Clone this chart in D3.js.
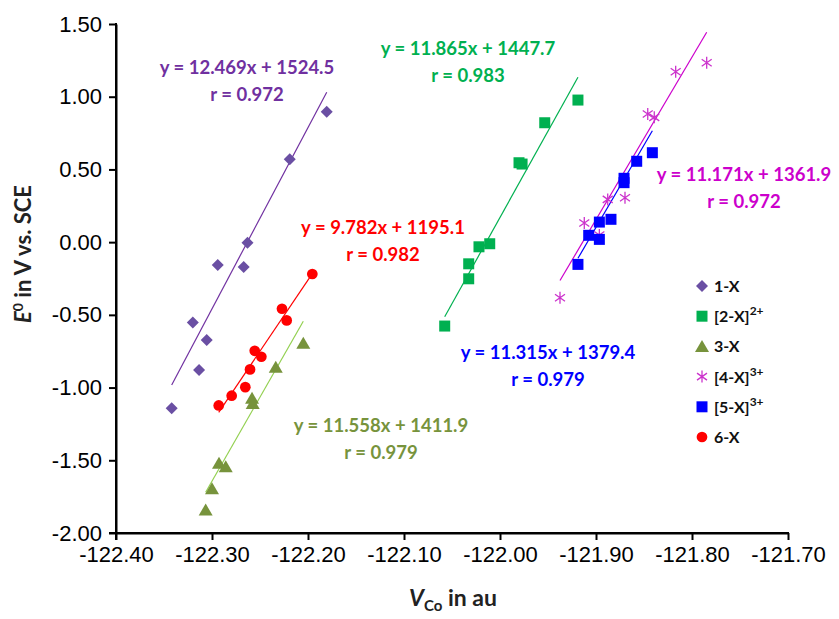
<!DOCTYPE html>
<html>
<head>
<meta charset="utf-8">
<script src="https://cdn.jsdelivr.net/npm/d3@7"></script>
<style>
  html, body { margin: 0; padding: 0; background: #fff; }
  svg { display: block; }
</style>
</head>
<body>
<svg id="chart" width="839" height="619"></svg>
<script>
// Series names as shown in the legend (base text + superscript charge)
const seriesBase = ["1-X", "[2-X]", "3-X", "[4-X]", "[5-X]", "6-X"];
const seriesCharge = ["", "2+", "", "3+", "3+", ""];

// V_Co (au) and E0 (V vs. SCE) for each series
const x1 = [-122.342, -122.3135, -122.3055, -122.320, -122.294, -122.267, -122.263, -122.219, -122.1805];
const y1 = [-1.143, -0.880, -0.673, -0.552, -0.157, -0.171, -0.004, 0.570, 0.897];

const x2 = [-122.0576, -122.0326, -122.0326, -122.0219, -122.0107, -121.9802, -121.9770, -121.9534, -121.9188];
const y2 = [-0.577, -0.252, -0.149, -0.032, -0.011, 0.546, 0.537, 0.821, 0.977];

const x3 = [-122.3066, -122.3000, -122.2927, -122.2857, -122.2583, -122.2576, -122.2336, -122.2049];
const y3 = [-1.842, -1.696, -1.521, -1.545, -1.074, -1.109, -0.861, -0.696];

const x4 = [-121.9375, -121.9122, -121.8965, -121.8878, -121.8698, -121.8461, -121.8393, -121.8170, -121.7847];
const y4 = [-0.382, 0.131, 0.049, 0.294, 0.305, 0.881, 0.858, 1.172, 1.234];

const x5 = [-121.9188, -121.9076, -121.8965, -121.8965, -121.8844, -121.8708, -121.8708, -121.8576, -121.8413];
const y5 = [-0.153, 0.047, 0.019, 0.138, 0.157, 0.409, 0.439, 0.556, 0.615];

const x6 = [-122.2930, -122.2795, -122.2653, -122.2604, -122.2555, -122.2486, -122.2271, -122.2222, -122.1955];
const y6 = [-1.123, -1.056, -0.997, -0.875, -0.747, -0.788, -0.458, -0.538, -0.219];

// Linear fits y = a x + b and correlation coefficients
const fitSlope = [12.469, 11.865, 11.558, 11.171, 11.315, 9.782];
const fitIntercept = [1524.5, 1447.7, 1411.9, 1361.9, 1379.4, 1195.1];
const fitR = ["0.972", "0.983", "0.979", "0.972", "0.979", "0.982"];

// Axis ticks
const xTicks = [-122.40, -122.30, -122.20, -122.10, -122.00, -121.90, -121.80, -121.70];
const yTicks = [-2.00, -1.50, -1.00, -0.50, 0.00, 0.50, 1.00, 1.50];

// ---- styling / layout ----
const xsData = [x1, x2, x3, x4, x5, x6];
const ysData = [y1, y2, y3, y4, y5, y6];
const markerColor = ["#6A4FA3", "#00B050", "#77933C", "#CC33CC", "#0000FF", "#FF0000"];
const lineColor   = ["#7030A0", "#00B050", "#92D050", "#CC00CC", "#0000FF", "#FF0000"];
const textColor   = ["#7030A0", "#00B050", "#77933C", "#CC00CC", "#0000FF", "#FF0000"];
const markerKind  = ["diamond", "square", "triangle", "asterisk", "square", "circle"];
// pixel centres of the two-line fit labels
const labelPos = [[247, 67], [468, 48], [381, 425], [744, 174], [548, 352], [383, 227]];

const svg = d3.select("#chart");
const x = d3.scaleLinear().domain([-122.40, -121.70]).range([116, 788]);
const y = d3.scaleLinear().domain([-2.00, 1.50]).range([533, 24]);

const tickFont = "'Liberation Sans', Arial, sans-serif";
const boldFont = "Lato, 'Open Sans', sans-serif";

// axes
const fmt = d => d.toFixed(2);
const xAxis = svg.append("g").attr("transform", `translate(0,${y(-2)})`)
  .call(d3.axisBottom(x).tickValues(xTicks).tickFormat(fmt).tickSizeOuter(0).tickSizeInner(7).tickPadding(6));
const yAxis = svg.append("g").attr("transform", `translate(${x(-122.40)},0)`)
  .call(d3.axisLeft(y).tickValues(yTicks).tickFormat(fmt).tickSizeOuter(0).tickSizeInner(7).tickPadding(7));
[xAxis, yAxis].forEach(g => {
  g.select(".domain").attr("stroke", "#000").attr("stroke-width", 2);
  g.selectAll(".tick line").attr("stroke", "#000").attr("stroke-width", 2);
  g.selectAll(".tick text").attr("fill", "#000").style("font-family", tickFont).style("font-size", "22px");
});
// extend the axis lines so the corner is closed
svg.append("line").attr("x1", x(-122.40) - 7).attr("x2", x(-121.70) + 1)
  .attr("y1", y(-2)).attr("y2", y(-2)).attr("stroke", "#000").attr("stroke-width", 2);
svg.append("line").attr("x1", x(-122.40)).attr("x2", x(-122.40))
  .attr("y1", y(1.5) - 1).attr("y2", y(-2) + 7).attr("stroke", "#000").attr("stroke-width", 2);

// axis titles
const xt = svg.append("text").attr("x", 453).attr("y", 606).attr("text-anchor", "middle")
  .style("font-family", boldFont).style("font-weight", 700).style("font-size", "23px").attr("fill", "#222");
xt.append("tspan").style("font-style", "italic").text("V");
xt.append("tspan").attr("dy", 5).style("font-size", "15px").text("Co");
xt.append("tspan").attr("dy", -5).text(" in au");

const yt = svg.append("text").attr("transform", "translate(31,254) rotate(-90)").attr("text-anchor", "middle")
  .style("font-family", boldFont).style("font-weight", 700).style("font-size", "22px").attr("fill", "#222");
yt.append("tspan").style("font-style", "italic").text("E");
yt.append("tspan").attr("dy", -8).style("font-size", "14px").text("0");
yt.append("tspan").attr("dy", 8).text(" in V  vs. SCE");

// marker shapes
function markerPath(kind) {
  switch (kind) {
    case "diamond": return "M0,-6L6,0L0,6L-6,0Z";
    case "square": return "M-5.5,-5.5H5.5V5.5H-5.5Z";
    case "triangle": return "M0,-6.5L7,5.5H-7Z";
    case "circle": return d3.symbol(d3.symbolCircle, 90)();
    case "asterisk": return "M0,-6V6M-5,-3.5L5,3.5M-5,3.5L5,-3.5";
  }
}
function drawMarker(g, kind, color) {
  const p = g.append("path").attr("d", markerPath(kind));
  if (kind === "asterisk") p.attr("fill", "none").attr("stroke", color).attr("stroke-width", 1.3);
  else p.attr("fill", color);
}

// fit lines over each series' x range
const plot = svg.append("g");
xsData.forEach((xs, i) => {
  const [lo, hi] = d3.extent(xs);
  const f = v => fitSlope[i] * v + fitIntercept[i];
  plot.append("line")
    .attr("x1", x(lo)).attr("y1", y(f(lo)))
    .attr("x2", x(hi)).attr("y2", y(f(hi)))
    .attr("stroke", lineColor[i]).attr("stroke-width", 1.2);
});

// points
xsData.forEach((xs, i) => {
  const pts = xs.map((v, j) => [v, ysData[i][j]]);
  plot.append("g").selectAll("g").data(pts).join("g")
    .attr("transform", d => `translate(${x(d[0])},${y(d[1])})`)
    .each(function () { drawMarker(d3.select(this), markerKind[i], markerColor[i]); });
});

// fit labels
fitSlope.forEach((a, i) => {
  const [cx, cy] = labelPos[i];
  const g = svg.append("g").style("font-family", boldFont).style("font-weight", 700)
    .style("font-size", "18.5px").attr("fill", textColor[i]).attr("text-anchor", "middle");
  g.append("text").attr("x", cx).attr("y", cy + 7).text(`y = ${a}x + ${fitIntercept[i]}`);
  g.append("text").attr("x", cx).attr("y", cy + 34).text(`r = ${fitR[i]}`);
});

// legend
const legend = svg.append("g").attr("transform", "translate(702,286)");
seriesBase.forEach((name, i) => {
  const row = legend.append("g").attr("transform", `translate(0,${i * 30.2})`);
  drawMarker(row, markerKind[i], markerColor[i]);
  const t = row.append("text").attr("x", 12).attr("y", 6)
    .style("font-family", boldFont).style("font-weight", 700).style("font-size", "16px").attr("fill", "#111");
  t.append("tspan").text(name);
  if (seriesCharge[i]) t.append("tspan").attr("dy", -7).style("font-size", "12px").text(seriesCharge[i]);
});
</script>
</body>
</html>
